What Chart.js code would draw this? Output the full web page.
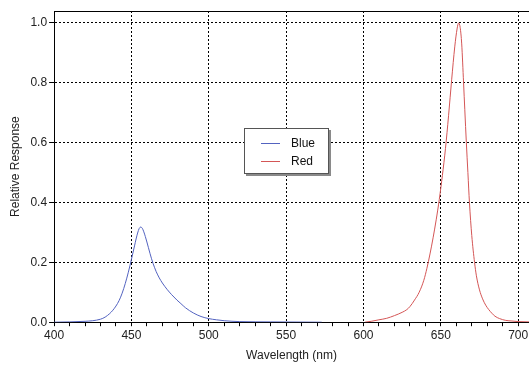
<!DOCTYPE html>
<html>
<head>
<meta charset="utf-8">
<script src="https://cdn.jsdelivr.net/npm/chart.js@4.4.1/dist/chart.umd.min.js"></script>
<style>
    html, body { margin: 0; padding: 0; background: #fff; }
    #wrap { width: 529px; height: 365px; }
</style>
</head>
<body>
<div id="wrap"><canvas id="spectrumChart"></canvas></div>
<script>
// Spectral response data
const blueWavelengths = [400, 410, 420, 425, 430, 433, 436, 438, 440, 442, 444, 446, 448, 450, 452, 453, 454, 455, 456, 457, 458, 459, 460, 461, 462, 463, 464, 465, 466, 467, 468, 470, 473, 476, 479.4, 482, 485, 490, 495, 500, 505, 510, 520, 540, 573];
const blueValues = [0.0, 0.001, 0.003, 0.005, 0.010, 0.017, 0.029, 0.040, 0.054, 0.072, 0.097, 0.129, 0.167, 0.210, 0.255, 0.278, 0.298, 0.313, 0.318, 0.314, 0.302, 0.286, 0.268, 0.249, 0.230, 0.212, 0.196, 0.182, 0.169, 0.158, 0.148, 0.131, 0.110, 0.092, 0.074, 0.062, 0.048, 0.031, 0.019, 0.012, 0.008, 0.005, 0.002, 0.001, 0.0];

const redWavelengths = [601, 605, 610, 615, 620, 625, 628, 630, 633, 636, 639, 641, 643, 645, 647, 649, 651, 653, 655, 657, 659, 660.5, 661.5, 662.5, 663.5, 664.7, 665.5, 666.5, 667.5, 668.5, 670, 671.8, 673, 675, 677, 679, 681, 683, 685, 688, 692, 696, 700, 707];
const redValues = [0.0, 0.003, 0.008, 0.013, 0.022, 0.033, 0.042, 0.052, 0.074, 0.100, 0.140, 0.180, 0.228, 0.282, 0.342, 0.410, 0.490, 0.580, 0.690, 0.810, 0.920, 0.980, 1.0, 0.985, 0.930, 0.800, 0.710, 0.600, 0.500, 0.400, 0.290, 0.200, 0.155, 0.108, 0.078, 0.057, 0.042, 0.030, 0.020, 0.012, 0.006, 0.004, 0.002, 0.001];

const seriesLabels = ['Blue', 'Red'];
const seriesColors = ['#5363c0', '#d45656'];

const FONT = '"Liberation Sans", Arial, Helvetica, sans-serif';

function toPoints(xs, ys) {
    return xs.map((x, i) => ({ x: x, y: ys[i] }));
}

// Legend box drawn inside the plot, plus the top frame line
const frameAndLegend = {
    id: 'frameAndLegend',
    afterDraw(chart) {
        const ctx = chart.ctx;
        const a = chart.chartArea;
        ctx.save();
        // top frame
        ctx.strokeStyle = '#000';
        ctx.lineWidth = 1;
        ctx.beginPath();
        ctx.moveTo(a.left, a.top + 0.5);
        ctx.lineTo(a.right, a.top + 0.5);
        ctx.stroke();

        // legend box
        const bx = 244, by = 128, bw = 85, bh = 46;
        ctx.fillStyle = '#8a8a8a';
        ctx.fillRect(bx + 2, by + 2, bw, bh);
        ctx.fillStyle = '#fff';
        ctx.fillRect(bx, by, bw, bh);
        ctx.strokeStyle = '#555';
        ctx.strokeRect(bx + 0.5, by + 0.5, bw - 1, bh - 1);

        ctx.font = '12px ' + FONT;
        ctx.textBaseline = 'middle';
        chart.data.datasets.forEach((ds, i) => {
            const y = by + 15 + i * 18;
            ctx.strokeStyle = ds.borderColor;
            ctx.beginPath();
            ctx.moveTo(bx + 17, y + 0.5);
            ctx.lineTo(bx + 36, y + 0.5);
            ctx.stroke();
            ctx.fillStyle = '#111';
            ctx.fillText(ds.label, bx + 47, y + 1);
        });
        ctx.restore();
    }
};

new Chart(document.getElementById('spectrumChart'), {
    type: 'line',
    data: {
        datasets: [{
            label: seriesLabels[0],
            data: toPoints(blueWavelengths, blueValues),
            borderColor: seriesColors[0],
            borderWidth: 1,
            pointRadius: 0,
            cubicInterpolationMode: 'monotone',
            fill: false
        }, {
            label: seriesLabels[1],
            data: toPoints(redWavelengths, redValues),
            borderColor: seriesColors[1],
            borderWidth: 1,
            pointRadius: 0,
            cubicInterpolationMode: 'monotone',
            fill: false
        }]
    },
    options: {
        responsive: true,
        maintainAspectRatio: false,
        animation: false,
        layout: { padding: { top: 11, right: 0, left: 8, bottom: 2 } },
        plugins: {
            legend: { display: false },
            tooltip: { enabled: false }
        },
        scales: {
            x: {
                type: 'linear',
                min: 400,
                max: 707,
                // plot runs to the right edge of the picture
                afterFit: function(scale) {
                    scale.paddingRight = 0;
                },
                border: { display: true, color: '#000', width: 1, dash: [2, 2] },
                grid: {
                    color: function(c) {
                        const v = c.tick ? c.tick.value : 0;
                        return (v % 50 === 0 && v !== 400) ? '#000' : 'transparent';
                    },
                    tickColor: function(c) {
                        const v = c.tick ? c.tick.value : 0;
                        return v % 10 === 0 ? '#000' : 'transparent';
                    },
                    tickLength: 4,
                    lineWidth: 1
                },
                ticks: {
                    stepSize: 10,
                    includeBounds: false,
                    autoSkip: false,
                    maxRotation: 0,
                    padding: 2,
                    color: '#222',
                    font: { family: FONT, size: 12 },
                    callback: function(value) {
                        return value % 50 === 0 ? String(value) : '';
                    }
                },
                title: {
                    display: true,
                    text: 'Wavelength (nm)',
                    color: '#222',
                    font: { family: FONT, size: 12 },
                    padding: { top: 4, bottom: 0 }
                }
            },
            y: {
                type: 'linear',
                min: 0,
                max: 1.04,
                border: { display: true, color: '#000', width: 1, dash: [2, 2] },
                grid: {
                    color: function(c) {
                        const v = c.tick ? c.tick.value : 0;
                        return v > 0.01 && v < 1.01 ? '#000' : 'transparent';
                    },
                    tickColor: '#000',
                    tickLength: 5,
                    lineWidth: 1
                },
                ticks: {
                    stepSize: 0.2,
                    includeBounds: false,
                    padding: 2,
                    color: '#222',
                    font: { family: FONT, size: 12 },
                    callback: function(value) {
                        return value.toFixed(1);
                    }
                },
                title: {
                    display: true,
                    text: 'Relative Response',
                    color: '#222',
                    font: { family: FONT, size: 12 },
                    padding: { top: 0, bottom: 6 }
                }
            }
        }
    },
    plugins: [frameAndLegend]
});
</script>
</body>
</html>
